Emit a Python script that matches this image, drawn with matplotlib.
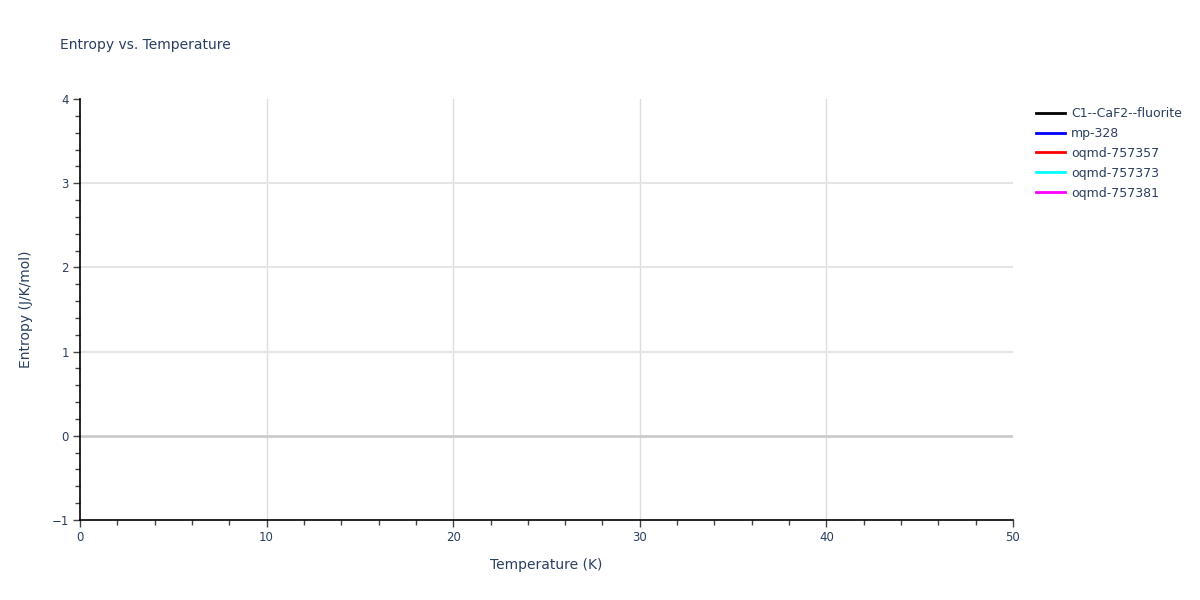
import matplotlib
matplotlib.use("Agg")
import matplotlib.pyplot as plt
from matplotlib.ticker import MultipleLocator

series_names = ["C1--CaF2--fluorite", "mp-328", "oqmd-757357", "oqmd-757373", "oqmd-757381"]
series_colors = ["black", "blue", "red", "cyan", "magenta"]
temperature = [[], [], [], [], []]
entropy = [[], [], [], [], []]

x_range = [0, 50]
y_range = [-1, 4]
x_ticks = [0, 10, 20, 30, 40, 50]
y_ticks = [-1, 0, 1, 2, 3, 4]

txt = "#2a3f5f"
plt.rcParams['font.family'] = ['DejaVu Sans']

fig = plt.figure(figsize=(12, 6), dpi=100)
ax = fig.add_axes([80/1200, 80/600, (1013-80)/1200, (520-99)/600])

for name, col, xs, ys in zip(series_names, series_colors, temperature, entropy):
    ax.plot(xs, ys, color=col, lw=2, label=name)

ax.set_xlim(*x_range)
ax.set_ylim(*y_range)
ax.set_xticks(x_ticks)
ax.set_yticks(y_ticks)
ax.set_yticklabels([str(v).replace('-', '\u2212') for v in y_ticks])
ax.xaxis.set_minor_locator(MultipleLocator(2))
ax.yaxis.set_minor_locator(MultipleLocator(0.2))

# interior gridlines only
for xv in x_ticks:
    if x_range[0] < xv < x_range[1]:
        ax.axvline(xv, color='#dddddd', lw=1, zorder=0)
for yv in y_ticks:
    if y_range[0] < yv < y_range[1]:
        if yv == 0:
            ax.axhline(yv, color='#cccccc', lw=2, zorder=1)
        else:
            ax.axhline(yv, color='#e5e5e5', lw=1.5, zorder=0)

for s in ['top', 'right']:
    ax.spines[s].set_visible(False)
for s in ['left', 'bottom']:
    ax.spines[s].set_color('black')
    ax.spines[s].set_linewidth(1.2)

ax.tick_params(which='major', direction='out', length=5, width=1, color='#444444', labelcolor=txt, labelsize=8.5, pad=3)
ax.tick_params(which='minor', direction='out', length=3.5, width=1, color='#444444')

ax.set_xlabel("Temperature (K)", color=txt, fontsize=10, labelpad=10)
ax.set_ylabel("Entropy (J/K/mol)", color=txt, fontsize=10, labelpad=13)

fig.text(60/1200, 1-45/600, "Entropy vs. Temperature", color=txt, fontsize=10, va='center', ha='left')

leg = fig.legend(loc='upper left', bbox_to_anchor=(1036/1200, 1-107/600), frameon=False,
                 fontsize=9, labelcolor=txt, handlelength=2.3, handletextpad=0.5,
                 labelspacing=0.55, borderaxespad=0, borderpad=0)

fig.savefig("out.png", dpi=100)
